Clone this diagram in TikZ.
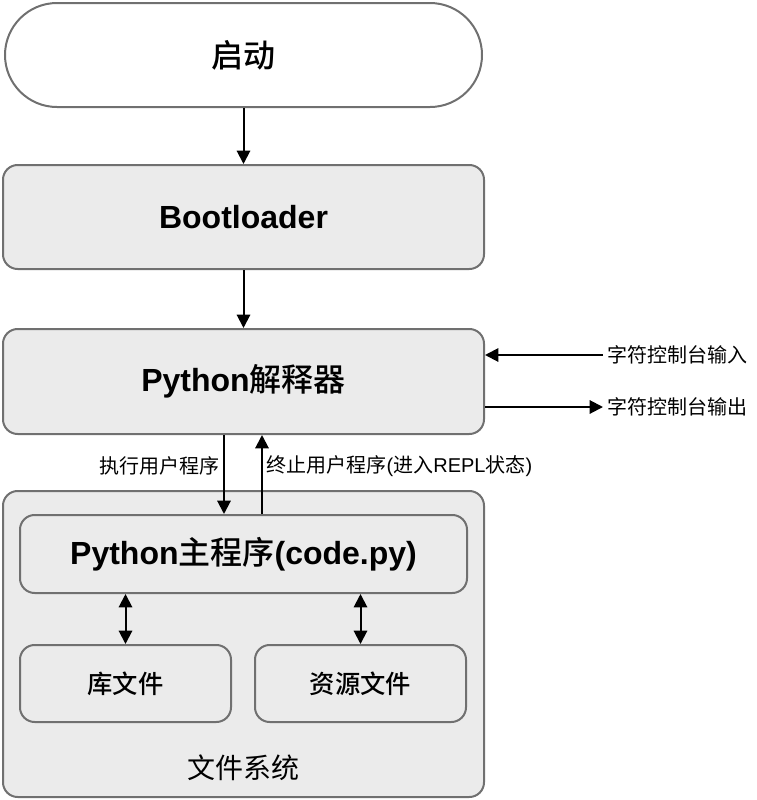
\documentclass[tikz,border=0pt]{standalone}
\usepackage{fontspec}
\usepackage{tikz}
\usetikzlibrary{arrows.meta}
\setmainfont{Liberation Sans}
\newfontfamily\cjk{Noto Sans CJK SC}[BoldFont={Noto Sans CJK SC Medium}]
\newcommand{\zh}[1]{{\cjk #1}}
\definecolor{boxline}{HTML}{707070}
\definecolor{boxfill}{HTML}{EBEBEB}

\begin{document}
\begin{tikzpicture}[x=0.75pt,y=-0.75pt,
  box/.style={draw=boxline,line width=1.5pt,fill=boxfill,rounded corners=11pt,inner sep=0pt},
  big/.style={font=\fontsize{24pt}{28pt}\selectfont\bfseries},
  mid/.style={font=\fontsize{19pt}{22pt}\selectfont\bfseries},
  small/.style={font=\fontsize{15pt}{18pt}\selectfont},
  arr/.style={line width=1.5pt,-{Triangle[length=10pt,width=10pt]}},
  darr/.style={line width=1.5pt,{Triangle[length=10pt,width=10pt]}-{Triangle[length=10pt,width=10pt]}}]
  \useasboundingbox (0,0) rectangle (757,800);
  \node[box,fill=white,rounded corners=39pt,minimum width=357.75pt,minimum height=78pt,big] (start) at (243.5,55) {\zh{启动}};
  \node[box,minimum width=360.75pt,minimum height=78pt,big] (boot) at (243.5,217) {Bootloader};
  \node[box,minimum width=360.75pt,minimum height=78.75pt,big] (interp) at (243.5,381.5) {Python\zh{解释器}};
  \draw[arr] (start) -- (boot); \draw[arr] (boot) -- (interp);
  % console in / out
  \node[small,anchor=west] (cin) at (603,355) {\zh{字符控制台输入}};
  \node[small,anchor=west] (cout) at (603,407) {\zh{字符控制台输出}};
  \draw[arr] (cin.west) -- (cin.west -| interp.east); \draw[arr] (cout.west -| interp.east) -- (cout.west);
  % file system
  \node[box,minimum width=360.75pt,minimum height=229.5pt] (fs) at (243.5,644) {};
  \node[box,minimum width=335.25pt,minimum height=58.5pt,big] (main) at (243.5,554) {Python\zh{主程序}(code.py)};
  \node[box,minimum width=158.25pt,minimum height=57.75pt,mid] (lib) at (125.5,683.5) {\zh{库文件}};
  \node[box,minimum width=158.25pt,minimum height=57.75pt,mid] (res) at (360.5,683.5) {\zh{资源文件}};
  \node[font=\fontsize{21pt}{24pt}\selectfont] (fslbl) at (243,768) {\zh{文件系统}};
  \draw[darr] (lib.north) -- (lib.north |- main.south); \draw[darr] (res.north) -- (res.north |- main.south);
  % run / stop
  \coordinate (run) at (224,0); \coordinate (stop) at (262,0);
  \draw[arr] (interp.south -| run) -- (main.north -| run); \draw[arr] (main.north -| stop) -- (interp.south -| stop);
  \node[small,anchor=east] (runlbl) at (224,466) {\zh{执行用户程序}};
  \node[small,anchor=west] (stoplbl) at (262,466) {\zh{终止用户程序}(\zh{进入}REPL\zh{状态})};
\end{tikzpicture}
\end{document}
